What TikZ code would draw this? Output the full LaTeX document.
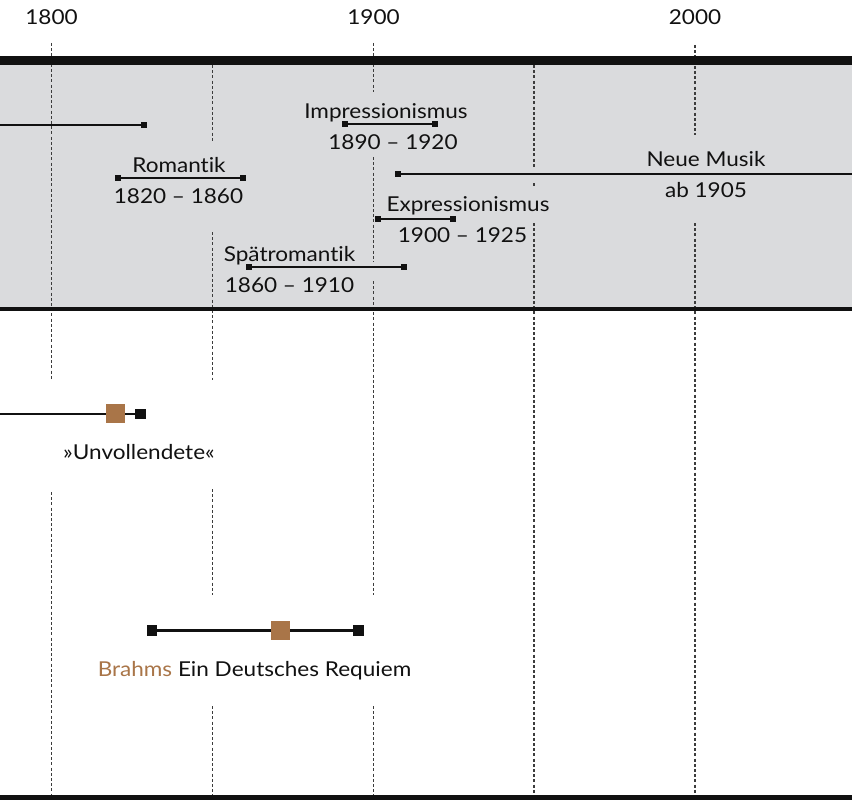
\documentclass[tikz,border=0pt]{standalone}
\usepackage{fontspec}
\setmainfont[FakeStretch=1.1,Ligatures=NoCommon]{Lato}
\definecolor{band}{RGB}{218,219,221}
\definecolor{ink}{RGB}{17,17,17}
\definecolor{work}{RGB}{169,117,72}
\definecolor{gridc}{RGB}{60,60,60}
\begin{document}
\begin{tikzpicture}[x=1pt,y=-1pt,
  gridline/.style={dash pattern=on 3pt off 2.2pt, line width=1.2pt, draw=gridc},
  period/.style={line width=1.3pt, draw=ink},
  workline/.style={line width=2.6pt, draw=ink},
  endsq/.style={rectangle, fill=ink, minimum size=6pt, inner sep=0pt, draw=none},
  bigsq/.style={rectangle, fill=ink, minimum size=10.5pt, inner sep=0pt, draw=none},
  worksq/.style={rectangle, fill=work, minimum size=19pt, inner sep=0pt, draw=none},
  lbl/.style={anchor=base, inner sep=0pt, text=ink, font=\fontsize{20.5}{24}\selectfont}]
\useasboundingbox (0,0) rectangle (852,800);
\fill[white] (0,0) rectangle (852,800);
% band
\fill[band] (0,60) rectangle (852,309);
% grid lines
\draw[gridline] (51.5,43) -- (51.5,380);
\draw[gridline] (51.5,492) -- (51.5,795);
\draw[gridline] (212.5,65) -- (212.5,142);
\draw[gridline] (212.5,232) -- (212.5,380);
\draw[gridline] (212.5,489) -- (212.5,595);
\draw[gridline] (212.5,706) -- (212.5,795);
\draw[gridline] (373.5,43) -- (373.5,92);
\draw[gridline] (373.5,157) -- (373.5,262);
\draw[gridline] (373.5,281) -- (373.5,595);
\draw[gridline] (373.5,706) -- (373.5,795);
\draw[gridline] (534,65) -- (534,167);
\draw[gridline] (534,183) -- (534,188);
\draw[gridline] (534,223) -- (534,795);
\draw[gridline] (695,45) -- (695,135);
\draw[gridline] (695,223) -- (695,795);
% heavy rules
\fill[ink] (0,56) rectangle (852,65);
\fill[ink] (0,307) rectangle (852,311);
\fill[ink] (0,795) rectangle (852,800);
% year labels
\node[lbl] (y1800) at (51.5,25) {1800};
\node[lbl] (y1900) at (373.5,25) {1900};
\node[lbl] (y2000) at (695,25) {2000};
% periods
\coordinate (klL) at (-2,125);
\node[endsq] (klR) at (144,125) {};
\draw[period] (klL) -- (klR.center);

\node[endsq] (romL) at (118,178) {};
\node[endsq] (romR) at (243,178) {};
\draw[period] (romL.center) -- (romR.center);
\node[lbl] (romT) at (179,172) {Romantik};
\node[lbl] (romY) at (178.5,203) {1820 -- 1860};

\node[endsq] (impL) at (345,124) {};
\node[endsq] (impR) at (435,124) {};
\draw[period] (impL.center) -- (impR.center);
\node[lbl] (impT) at (386,118) {Impressionismus};
\node[lbl] (impY) at (393,149) {1890 -- 1920};

\node[endsq] (neuL) at (397.5,174) {};
\coordinate (neuR) at (854,174);
\draw[period] (neuL.center) -- (neuR);
\node[lbl] (neuT) at (706,166.5) {Neue Musik};
\node[lbl] (neuY) at (706,197) {ab 1905};

\node[endsq] (expL) at (378,219) {};
\node[endsq] (expR) at (453,219) {};
\draw[period] (expL.center) -- (expR.center);
\node[lbl] (expT) at (468,211) {Expressionismus};
\node[lbl] (expY) at (462.5,242) {1900 -- 1925};

\node[endsq] (spL) at (248.5,267) {};
\node[endsq] (spR) at (404,267) {};
\draw[period] (spL.center) -- (spR.center);
\node[lbl] (spT) at (289.5,261) {Spätromantik};
\node[lbl] (spY) at (289.5,292) {1860 -- 1910};

% works
\coordinate (uL) at (-2,414);
\coordinate (uRc) at (140.5,414);
\draw[workline] (uL) -- (uRc);
\node[bigsq] (uR) at (uRc) {};
\node[worksq] (uW) at (115.5,413.5) {};
\node[lbl] (uT) at (139,459) {»Unvollendete«};

\coordinate (bLc) at (152,630.5);
\coordinate (bRc) at (358.5,630.5);
\draw[workline] (bLc) -- (bRc);
\node[bigsq] (bL) at (bLc) {};
\node[bigsq] (bR) at (bRc) {};
\node[worksq] (bW) at (280.5,630.5) {};
\node[lbl] (bT) at (254.5,676) {{\color{work}Brahms} Ein Deutsches Requiem};
\end{tikzpicture}
\end{document}
